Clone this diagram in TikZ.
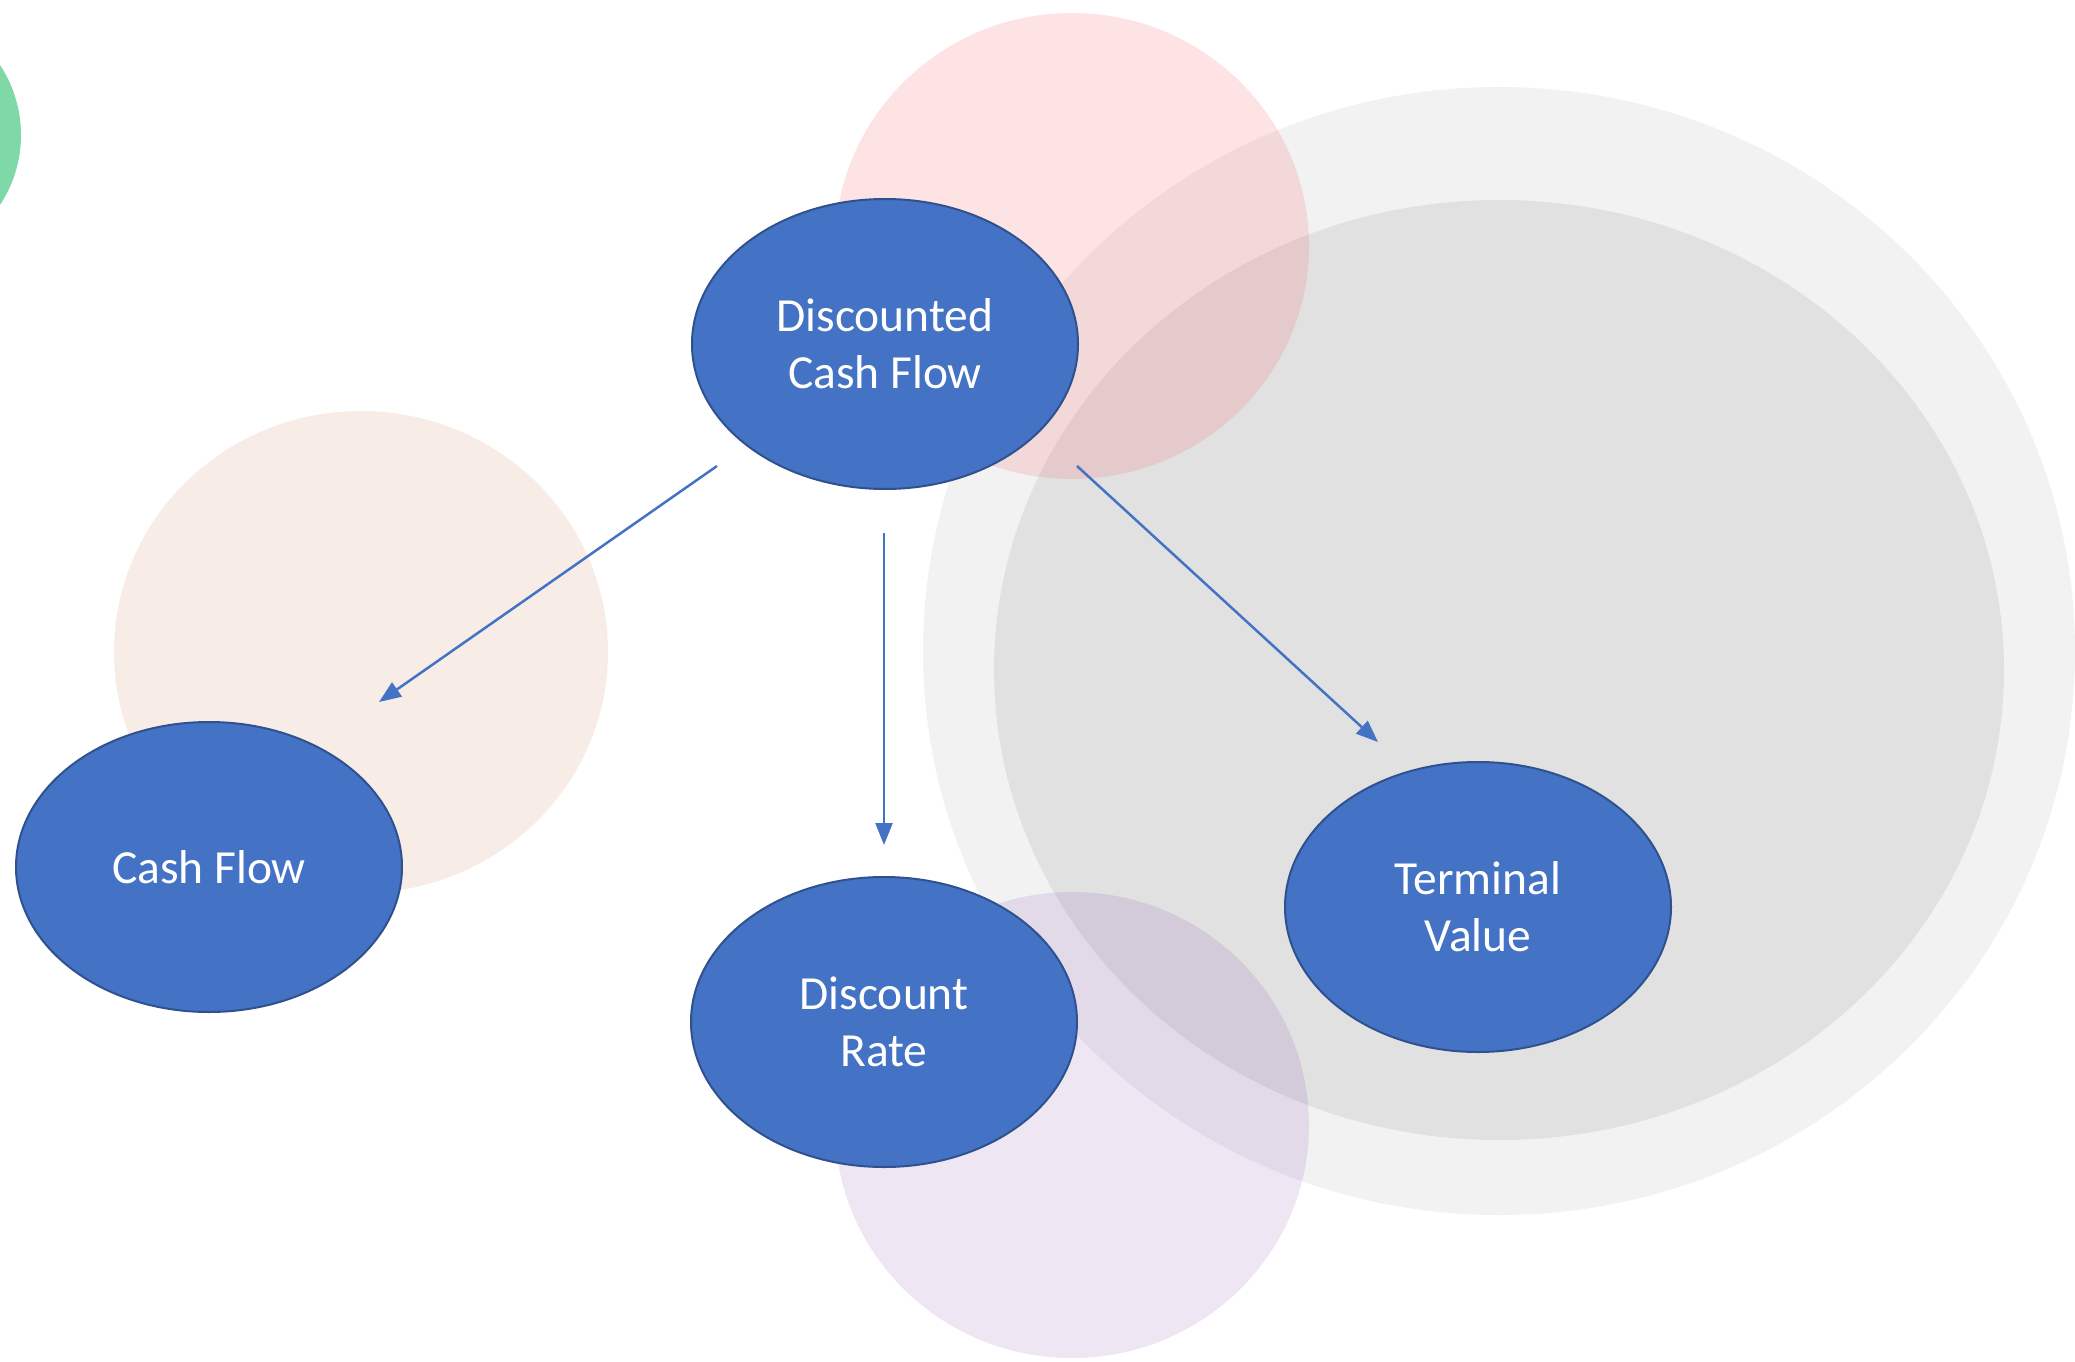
\documentclass[tikz,border=0pt]{standalone}
\usepackage{fontspec}
\setmainfont{Carlito}
\usetikzlibrary{shapes.geometric,arrows.meta}
\definecolor{nodeblue}{HTML}{4472C4}
\definecolor{nodeedge}{HTML}{2F528F}
\definecolor{greyout}{HTML}{F2F2F2}
\definecolor{greyin}{HTML}{E1E1E1}
\definecolor{pinkc}{RGB}{245,90,90}
\definecolor{lavc}{RGB}{112,48,160}
\definecolor{peachc}{HTML}{F8ECE6}
\definecolor{greenc}{HTML}{7FD8A8}
\tikzset{
  topic/.style={ellipse, draw=nodeedge, line width=2pt, fill=nodeblue, text=white,
    minimum width=386pt, minimum height=290pt, inner sep=0pt, align=center,
    font=\fontsize{47.5}{57}\selectfont},
  link/.style={draw=nodeblue, line width=2.5pt, -{Triangle[length=22pt,width=17pt]}}
}
\begin{document}
\begin{tikzpicture}[x=1pt,y=-1pt]
\useasboundingbox (0,0) rectangle (2075,1362);
\clip (0,0) rectangle (2075,1362);
% background shapes
\fill[greenc] (-106,135) circle (127);
\fill[peachc] (361,652) ellipse [x radius=247, y radius=241];
\fill[greyout] (1499,651) ellipse [x radius=576, y radius=564];
\fill[greyin] (1499,670) ellipse [x radius=505, y radius=470];
\fill[pinkc, fill opacity=0.17] (1072,246) ellipse [x radius=237, y radius=233];
\fill[lavc, fill opacity=0.12] (1072,1125) ellipse [x radius=237, y radius=233];
% nodes
\node[topic] (dcf) at (885,344) {Discounted\\Cash Flow};
\node[topic] (cf) at (209,867) {Cash Flow};
\node[topic] (dr) at (884,1022) {Discount\\Rate};
\node[topic] (tv) at (1478,907) {Terminal\\Value};
% connector ends
\coordinate (s1) at (717,466);
\coordinate (e1) at (379,702);
\coordinate (s2) at (884,533);
\coordinate (e2) at (884,845);
\coordinate (s3) at (1077,466);
\coordinate (e3) at (1378,742);
\draw[link] (s1) -- (e1);
\draw[link] (s2) -- (e2);
\draw[link] (s3) -- (e3);
\end{tikzpicture}
\end{document}
